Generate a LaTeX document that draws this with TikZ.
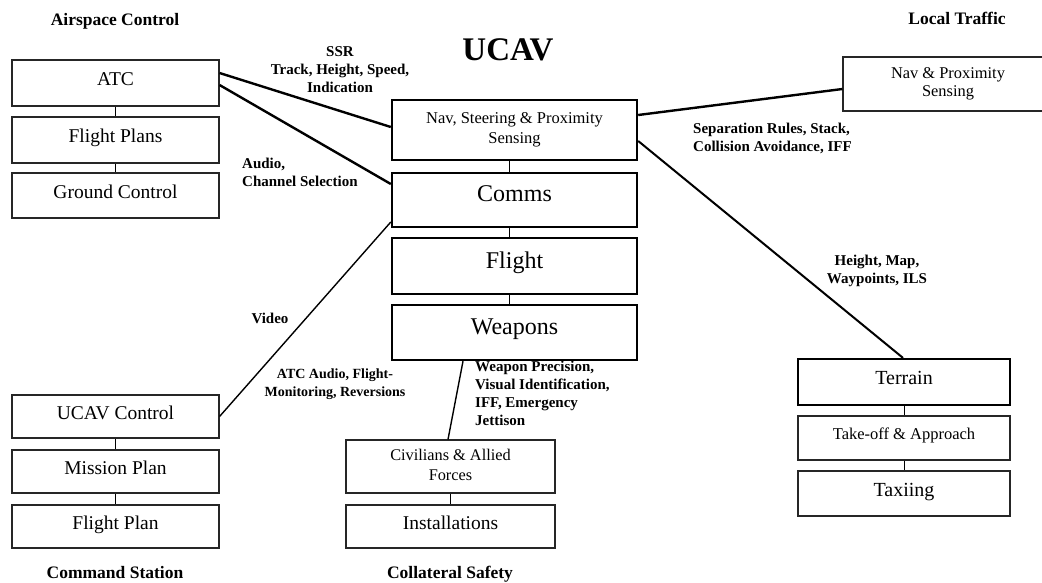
\documentclass[tikz,border=0pt]{standalone}
\usepackage{fontspec}
\setmainfont{Liberation Serif}
\begin{document}
\begin{tikzpicture}[x=1pt,y=-1pt,
  thinbox/.style={draw=black!85, line width=1.1pt, rectangle, inner sep=0pt, align=center,
    font=\fontsize{19.5}{21}\selectfont, text depth=8pt},
  thickbox/.style={draw, line width=2.4pt, rectangle, inner sep=0pt, align=center,
    font=\fontsize{19.5}{21}\selectfont, text depth=8pt},
  bigtext/.style={font=\fontsize{24}{26}\selectfont, text depth=12pt},
  lbl/.style={font=\bfseries\fontsize{15}{18}\selectfont, inner sep=0pt},
  grouptitle/.style={font=\bfseries\fontsize{17.5}{20}\selectfont, inner sep=0pt},
  link/.style={line width=2.4pt},
  thinlink/.style={line width=1.4pt},
  tie/.style={line width=0.9pt}
]
\useasboundingbox (0,0) rectangle (1042,583);
\fill[white] (0,0) rectangle (1042,583);

% Airspace control stack
\node[thinbox, minimum width=207pt, minimum height=46pt] (atc) at (115.5,83) {ATC};
\node[thinbox, minimum width=207pt, minimum height=46pt] (fplans) at (115.5,140) {Flight Plans};
\node[thinbox, minimum width=207pt, minimum height=45pt] (ground) at (115.5,195.5) {Ground Control};
\node[grouptitle] (airspace) at (115,21) {Airspace Control};

% Command station stack
\node[thinbox, minimum width=207pt, minimum height=43pt] (ucavctl) at (115.5,416.5) {UCAV Control};
\node[thinbox, minimum width=207pt, minimum height=43pt] (mission) at (115.5,471.5) {Mission Plan};
\node[thinbox, minimum width=207pt, minimum height=43pt] (fplan) at (115.5,526.5) {Flight Plan};
\node[grouptitle, anchor=base] (command) at (115,578) {Command Station};

% UCAV systems
\node[font=\bfseries\fontsize{33}{36}\selectfont, inner sep=0pt] (title) at (508,50) {UCAV};
\node[thickbox, minimum width=245pt, minimum height=60pt, font=\fontsize{16.5}{20}\selectfont, text depth=4pt] (nav) at (514.5,130) {Nav, Steering \& Proximity\\Sensing};
\node[thickbox, bigtext, minimum width=245pt, minimum height=54pt] (comms) at (514.5,200) {Comms};
\node[thickbox, bigtext, minimum width=245pt, minimum height=56pt] (flight) at (514.5,266) {Flight};
\node[thickbox, bigtext, minimum width=245pt, minimum height=55pt] (weapons) at (514.5,332.5) {Weapons};

% Collateral safety stack
\node[thinbox, minimum width=209pt, minimum height=53pt, font=\fontsize{16.3}{20}\selectfont, text depth=4pt] (civ) at (450.5,466.5) {Civilians \& Allied\\Forces};
\node[thinbox, minimum width=209pt, minimum height=43pt] (install) at (450.5,526.5) {Installations};
\node[grouptitle, anchor=base] (collateral) at (450,578) {Collateral Safety};

% Local traffic
\node[thinbox, minimum width=210pt, minimum height=54pt, font=\fontsize{16.4}{18}\selectfont, text depth=4pt] (navprox) at (948,84) {Nav \& Proximity\\Sensing};
\node[grouptitle] (local) at (957,18) {Local Traffic};

% Terrain stack
\node[thickbox, minimum width=212pt, minimum height=46pt, line width=2.2pt, font=\fontsize{20}{22}\selectfont] (terrain) at (904,382) {Terrain};
\node[thinbox, minimum width=212pt, minimum height=44pt, font=\fontsize{16.5}{19}\selectfont] (takeoff) at (904,438) {Take-off \& Approach};
\node[thinbox, minimum width=212pt, minimum height=45pt, font=\fontsize{20}{22}\selectfont] (taxi) at (904,493.5) {Taxiing};

% Ties inside each stack
\draw[tie] (atc.south) -- (fplans.north);
\draw[tie] (fplans.south) -- (ground.north);
\draw[tie] (ucavctl.south) -- (mission.north);
\draw[tie] (mission.south) -- (fplan.north);
\draw[tie] ([xshift=-5pt]nav.south) -- ([xshift=-5pt]comms.north);
\draw[tie] ([xshift=-5pt]comms.south) -- ([xshift=-5pt]flight.north);
\draw[tie] ([xshift=-5pt]flight.south) -- ([xshift=-5pt]weapons.north);
\draw[tie] (civ.south) -- (install.north);
\draw[tie] (terrain.south) -- (takeoff.north);
\draw[tie] (takeoff.south) -- (taxi.north);

% Links between groups
\draw[link] ([yshift=10pt]atc.east) -- ([yshift=3pt]nav.west);
\draw[link] ([yshift=-2pt]atc.east) -- ([yshift=16pt]comms.west);
\draw[thinlink] ([yshift=-22pt]comms.west) -- (ucavctl.east);
\draw[link] ([yshift=15pt]nav.east) -- ([yshift=-5pt]navprox.west);
\draw[line width=2pt] ([yshift=-11pt]nav.east) -- ([xshift=-1pt]terrain.north);
\draw[thinlink] ([xshift=-51.5pt]weapons.south) -- ([xshift=-2.5pt]civ.north);

% Link labels
\node[lbl, align=center] (ssr) at (340,70) {SSR\\Track, Height, Speed,\\Indication};
\node[lbl, align=left, anchor=west] (audio) at (242,172) {Audio,\\Channel Selection};
\node[lbl] (video) at (270,318) {Video};
\node[lbl, align=center, font=\bfseries\fontsize{14}{18}\selectfont] (atcaudio) at (335,384) {ATC Audio, Flight-\\Monitoring, Reversions};
\node[lbl, align=left, anchor=west] (weplbl) at (475,393) {Weapon Precision,\\Visual Identification,\\IFF, Emergency\\Jettison};
\node[lbl, align=left, anchor=west] (seplbl) at (693,138) {Separation Rules, Stack,\\Collision Avoidance, IFF};
\node[lbl, align=center] (maplbl) at (877,271) {Height, Map,\\Waypoints, ILS};
\end{tikzpicture}
\end{document}
